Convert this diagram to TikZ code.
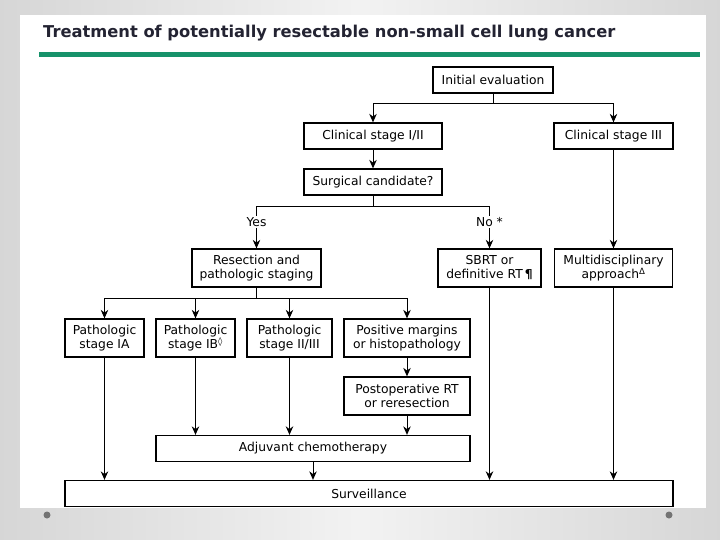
\documentclass[tikz,border=0pt]{standalone}
\usepackage{fontspec}
\setmainfont{DejaVu Sans}
\usepackage{tikz}
\usetikzlibrary{arrows.meta}
\definecolor{titlecol}{RGB}{35,35,50}
\definecolor{rulecol}{RGB}{22,146,106}
\colorlet{slidecol}{black!16}
\colorlet{slidelight}{black!5}
\colorlet{dotcol}{black!55}
\tikzset{
  box/.style={draw, line width=1.3pt, inner sep=0pt, align=center,
    minimum height=26pt, font=\fontsize{12.3}{14}\selectfont},
  tallbox/.style={box, minimum height=38pt},
  link/.style={->, line width=1pt},
  boldlink/.style={->, line width=1.8pt},
  choice/.style={inner sep=1pt, font=\fontsize{12.3}{14}\selectfont}
}

\begin{document}
\begin{tikzpicture}[x=1pt, y=-1pt, >={Stealth[length=8.5pt, width=7.5pt]}]

  \useasboundingbox (0,0) rectangle (720,540);

  % Slide background and white panel.
  \shade[left color=slidecol, right color=slidecol, middle color=slidelight]
    (0,0) rectangle (720,540);
  \fill[white] (20,15) rectangle (706,508);
  \fill[dotcol] (47,515) circle[radius=3.5pt];
  \fill[dotcol] (669,515) circle[radius=3.5pt];

  % Title and green rule.
  \node[anchor=west, inner sep=0pt, text=titlecol,
    font=\fontsize{16.3}{19}\selectfont\bfseries] (title) at (43,33)
    {Treatment of potentially resectable non-small cell lung cancer};
  \fill[rulecol] (39,52) rectangle (700,57);

  % Boxes.
  \node[box, minimum width=120pt] (init) at (493,80) {Initial evaluation};
  \node[box, minimum width=138pt] (clin12) at (373,136) {Clinical stage I/II};
  \node[box, minimum width=119pt] (clin3) at (613.5,136) {Clinical stage III};
  \node[box, minimum width=138pt] (surg) at (373,182) {Surgical candidate?};

  \node[tallbox, minimum width=129pt] (resect) at (256.5,268)
    {Resection and\\pathologic staging};
  \node[tallbox, minimum width=103pt] (sbrt) at (489.5,268)
    {SBRT or\\definitive RT\,{\bfseries ¶}};
  \node[tallbox, minimum width=118pt] (multi) at (613.5,268)
    {Multidisciplinary\\approach\textsuperscript{Δ}};

  \node[tallbox, minimum width=79pt] (pathA) at (104.5,338)
    {Pathologic\\stage IA};
  \node[tallbox, minimum width=79pt] (pathB) at (195.5,338)
    {Pathologic\\stage IB\textsuperscript{◊}};
  \node[tallbox, minimum width=85pt] (pathC) at (289.5,338)
    {Pathologic\\stage II/III};
  \node[tallbox, minimum width=126pt] (posmarg) at (407,338)
    {Positive margins\\or histopathology};
  \node[tallbox, minimum width=126pt] (postop) at (407,396)
    {Postoperative RT\\or reresection};

  \node[box, minimum width=314pt] (adjuv) at (313,448.5) {Adjuvant chemotherapy};
  \node[box, minimum width=608pt] (surv) at (369,493.5) {Surveillance};

  % Branch labels.
  \node[choice] (yes) at (256.5,222) {Yes};
  \node[choice] (no) at (489.5,222) {No *};

  % Connectors.
  \draw[link] (init.south) -- ++(0,10) -| (clin12.north);
  \draw[link] (init.south) -- ++(0,10) -| (clin3.north);
  \draw[link] (clin12) -- (surg);
  \draw[line width=1pt] (surg.south) -- ++(0,11) -| (yes.north);
  \draw[line width=1pt] (surg.south) -- ++(0,11) -| (no.north);
  \draw[link] (yes) -- (resect);
  \draw[link] (no) -- (sbrt);
  \draw[link] (clin3) -- (multi);

  \foreach \n in {pathA, pathB, pathC, posmarg}
    \draw[link] (resect.south) -- ++(0,11) -| (\n.north);

  \draw[link] (pathA.south) -- (pathA.south |- surv.north);
  \draw[link] (pathB.south) -- (pathB.south |- adjuv.north);
  \draw[boldlink] (pathC.south) -- (pathC.south |- adjuv.north);
  \draw[link] (posmarg) -- (postop);
  \draw[link] (postop.south) -- (postop.south |- adjuv.north);
  \draw[link] (adjuv.south) -- (adjuv.south |- surv.north);
  \draw[boldlink] (sbrt.south) -- (sbrt.south |- surv.north);
  \draw[link] (multi.south) -- (multi.south |- surv.north);

\end{tikzpicture}
\end{document}
